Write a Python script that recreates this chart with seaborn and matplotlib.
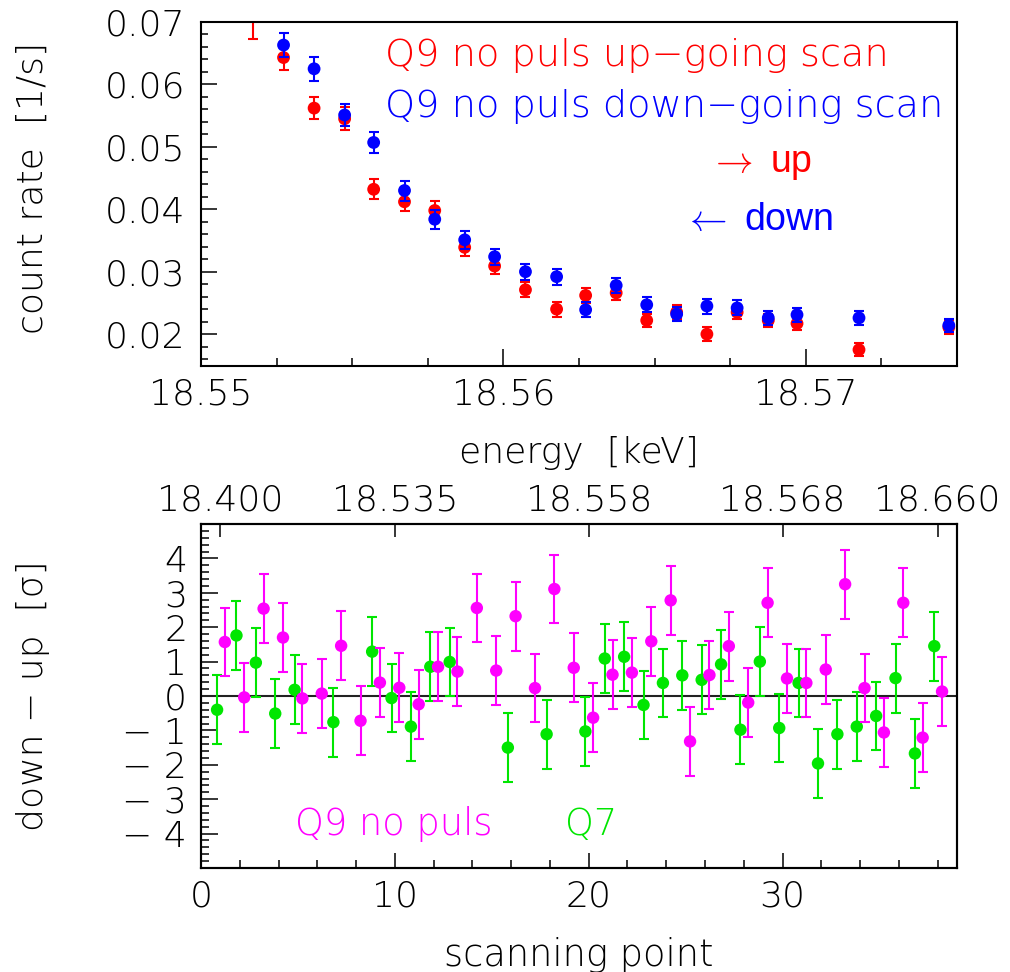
import matplotlib
matplotlib.use("Agg")
import matplotlib.pyplot as plt
from matplotlib.ticker import MultipleLocator, FixedLocator, FuncFormatter
import pandas as pd
import seaborn as sns

# ---------------- upper panel: count rate vs. retarding energy ----------------
up_energy = [18.55172, 18.55273, 18.55374, 18.55475, 18.55571, 18.55673, 18.55773,
             18.55872, 18.55971, 18.56073, 18.56176, 18.56272, 18.56373, 18.56474,
             18.56573, 18.56673, 18.56773, 18.56876, 18.56971, 18.57176, 18.57473]
up_rate = [0.0712, 0.0643, 0.0562, 0.0545, 0.0432, 0.0412, 0.0398,
           0.0339, 0.0309, 0.0271, 0.0240, 0.0262, 0.0266, 0.0222,
           0.0235, 0.0200, 0.0235, 0.0222, 0.0217, 0.0175, 0.0211]
up_err = [0.0039, 0.0020, 0.0018, 0.0018, 0.0016, 0.0015, 0.0015,
          0.0014, 0.0013, 0.0012, 0.0012, 0.0012, 0.0012, 0.0011,
          0.0011, 0.0011, 0.0011, 0.0011, 0.0011, 0.0010, 0.0011]

down_energy = [18.55273, 18.55374, 18.55475, 18.55571, 18.55673, 18.55773, 18.55872,
               18.55971, 18.56073, 18.56176, 18.56272, 18.56373, 18.56474, 18.56573,
               18.56673, 18.56773, 18.56876, 18.56971, 18.57176, 18.57473]
down_rate = [0.0663, 0.0625, 0.0551, 0.0507, 0.0430, 0.0384, 0.0351,
             0.0324, 0.0300, 0.0292, 0.0239, 0.0278, 0.0247, 0.0232,
             0.0245, 0.0242, 0.0226, 0.0231, 0.0226, 0.0214]
down_err = [0.0019, 0.0019, 0.0018, 0.0017, 0.0016, 0.0015, 0.0014,
            0.0013, 0.0013, 0.0013, 0.0012, 0.0012, 0.0012, 0.0011,
            0.0012, 0.0012, 0.0011, 0.0011, 0.0011, 0.0011]

# ---------------- lower panel: (down - up) in units of sigma ----------------
q9_point = list(range(1, 39))
q9_sigma = [1.57, -0.04, 2.54, 1.70, -0.07, 0.07, 1.46, -0.72, 0.39, 0.24,
            -0.24, 0.85, 0.71, 2.56, 0.74, 2.32, 0.23, 3.11, 0.82, -0.63,
            0.62, 0.68, 1.59, 2.78, -1.32, 0.61, 1.45, -0.19, 2.71, 0.51,
            0.38, 0.77, 3.25, 0.23, -1.06, 2.71, -1.21, 0.13]

q7_point = [1, 2, 3, 4, 5, 7, 9, 10, 11, 12, 13, 16, 18, 20, 21, 22, 23, 24,
            25, 26, 27, 28, 29, 30, 31, 32, 33, 34, 35, 36, 37, 38]
q7_sigma = [-0.40, 1.76, 0.97, -0.51, 0.18, -0.76, 1.29, -0.06, -0.89, 0.85,
            0.99, -1.50, -1.11, -1.03, 1.09, 1.14, -0.26, 0.38, 0.60, 0.47,
            0.92, -0.98, 1.00, -0.93, 0.38, -1.96, -1.11, -0.89, -0.58, 0.52,
            -1.67, 1.45]

top_tick_points = [1, 10, 20, 30, 38]
top_tick_labels = ["18.400", "18.535", "18.558", "18.568", "18.660"]

RED, BLUE = "#ff0000", "#0000ff"
MAGENTA, GREEN = "#ff00ff", "#00e600"

sns.set_theme(style="ticks")
THIN = ["DejaVu Sans"]
plt.rcParams.update({
    "font.family": THIN,
    "font.weight": 200,
    "font.size": 26,
    "mathtext.fontset": "cm",
    "axes.linewidth": 1.5,
    "axes.edgecolor": "black",
    "text.color": "black",
    "xtick.color": "black",
    "ytick.color": "black",
    "axes.labelcolor": "black",
    "axes.labelweight": 200,
})

fig = plt.figure(figsize=(10.1, 9.72), dpi=100)
ax1 = fig.add_axes([0.199, 0.6235, 0.7485, 0.3539])
ax2 = fig.add_axes([0.199, 0.1070, 0.7485, 0.3539])

MS = 85        # marker area (pt^2)
ELW = 1.5      # error-bar line width
CAP = 3.3


def draw_series(ax, x, y, err, color, z, size=MS):
    ax.errorbar(x, y, yerr=err, fmt="none", ecolor=color, elinewidth=ELW,
                capsize=CAP, capthick=ELW, zorder=z, clip_on=True)
    df = pd.DataFrame({"x": x, "y": y})
    sns.scatterplot(data=df, x="x", y="y", color=color, s=size, edgecolor="none",
                    linewidth=0, ax=ax, zorder=z + 0.5, legend=False)


# ---- upper panel
draw_series(ax1, up_energy, up_rate, up_err, RED, 2)
draw_series(ax1, down_energy, down_rate, down_err, BLUE, 4)

ax1.set_xlim(18.55, 18.575)
ax1.set_ylim(0.0149, 0.07)
ax1.xaxis.set_major_locator(MultipleLocator(0.01))
ax1.xaxis.set_minor_locator(MultipleLocator(0.0025))
ax1.yaxis.set_major_locator(MultipleLocator(0.01))
ax1.yaxis.set_minor_locator(MultipleLocator(0.002))
ax1.xaxis.set_major_formatter(FuncFormatter(lambda v, p: f"{v:.2f}"))
ax1.yaxis.set_major_formatter(FuncFormatter(lambda v, p: f"{v:.2f}"))
ax1.tick_params(axis="x", which="major", direction="in", length=12, width=1.1, pad=8, labelsize=26)
ax1.tick_params(axis="x", which="minor", direction="in", length=6, width=1.1)
ax1.tick_params(axis="y", which="major", direction="in", length=11.5, width=1.1, pad=11.5, labelsize=26)
ax1.tick_params(axis="y", which="minor", direction="in", length=5, width=1.1)
ax1.tick_params(top=False, right=False, which="both")
ax1.set_xlabel("energy  [keV]", fontsize=26)
ax1.set_ylabel("count rate  [1/s]", fontsize=26)
ax1.xaxis.set_label_coords(0.5, -0.203)
ax1.yaxis.set_label_coords(-0.200, 0.517)

ax1.text(0.2434, 0.872, "Q9 no puls up\u2212going scan", color=RED, fontsize=27.5,
         transform=ax1.transAxes, va="baseline", ha="left")
ax1.text(0.2434, 0.7247, "Q9 no puls down\u2212going scan", color=BLUE, fontsize=27.5,
         transform=ax1.transAxes, va="baseline", ha="left")
ax1.text(0.672, 0.564, r"$\rightarrow$ up", color=RED, fontsize=27,
         family=["Liberation Sans"], fontweight="normal",
         transform=ax1.transAxes, va="baseline", ha="left")
ax1.text(0.638, 0.395, r"$\leftarrow$ down", color=BLUE, fontsize=27,
         family=["Liberation Sans"], fontweight="normal",
         transform=ax1.transAxes, va="baseline", ha="left")

# ---- lower panel
ax2.axhline(0, color="#222222", lw=1.5, zorder=1)
q7_x = [p - 0.17 for p in q7_point]
q9_x = [p + 0.23 for p in q9_point]
draw_series(ax2, q7_x, q7_sigma, [1.0] * len(q7_sigma), GREEN, 2, size=80)
draw_series(ax2, q9_x, q9_sigma, [1.0] * len(q9_sigma), MAGENTA, 4, size=80)

ax2.set_xlim(0, 39)
ax2.set_ylim(-5, 5)
ax2.xaxis.set_major_locator(MultipleLocator(10))
ax2.xaxis.set_minor_locator(MultipleLocator(2))
ax2.yaxis.set_major_locator(FixedLocator([-4, -3, -2, -1, 0, 1, 2, 3, 4]))
ax2.yaxis.set_minor_locator(MultipleLocator(0.2))


def sigma_fmt(v, p):
    n = int(round(v))
    return f"\u2212 {abs(n)}" if n < 0 else f"{n}"


ax2.yaxis.set_major_formatter(FuncFormatter(sigma_fmt))
ax2.xaxis.set_major_formatter(FuncFormatter(lambda v, p: f"{int(round(v))}"))
ax2.tick_params(axis="x", which="major", direction="in", length=11, width=1.1, pad=8, labelsize=26)
ax2.tick_params(axis="x", which="minor", direction="in", length=6, width=1.1)
ax2.tick_params(axis="y", which="major", direction="in", length=12, width=1.1, pad=10, labelsize=26)
ax2.tick_params(axis="y", which="minor", direction="in", length=6, width=1.1)
ax2.tick_params(top=False, right=False, which="both")
ax2.set_xlabel("scanning point", fontsize=26.5)
ax2.set_ylabel("down \u2212 up  [\u03c3]", fontsize=26)
ax2.xaxis.set_label_coords(0.5, -0.2)
ax2.yaxis.set_label_coords(-0.200, 0.5)

ax2.text(0.1243, 0.096, "Q9 no puls", color=MAGENTA, fontsize=26.5,
         transform=ax2.transAxes, va="baseline", ha="left")
ax2.text(0.4815, 0.096, "Q7", color=GREEN, fontsize=26.5,
         transform=ax2.transAxes, va="baseline", ha="left")

# energy scale of the scanning points along the top edge
ax2t = ax2.twiny()
ax2t.set_xlim(ax2.get_xlim())
ax2t.xaxis.set_major_locator(FixedLocator(top_tick_points))
ax2t.set_xticklabels(top_tick_labels)
ax2t.xaxis.set_minor_locator(FixedLocator([]))
ax2t.tick_params(axis="x", which="major", direction="in", length=9.5, width=1.1,
                 pad=5, labelsize=26, top=True, labeltop=True)
for s in ax2t.spines.values():
    s.set_linewidth(1.5)

fig.savefig("out.png", dpi=100)
